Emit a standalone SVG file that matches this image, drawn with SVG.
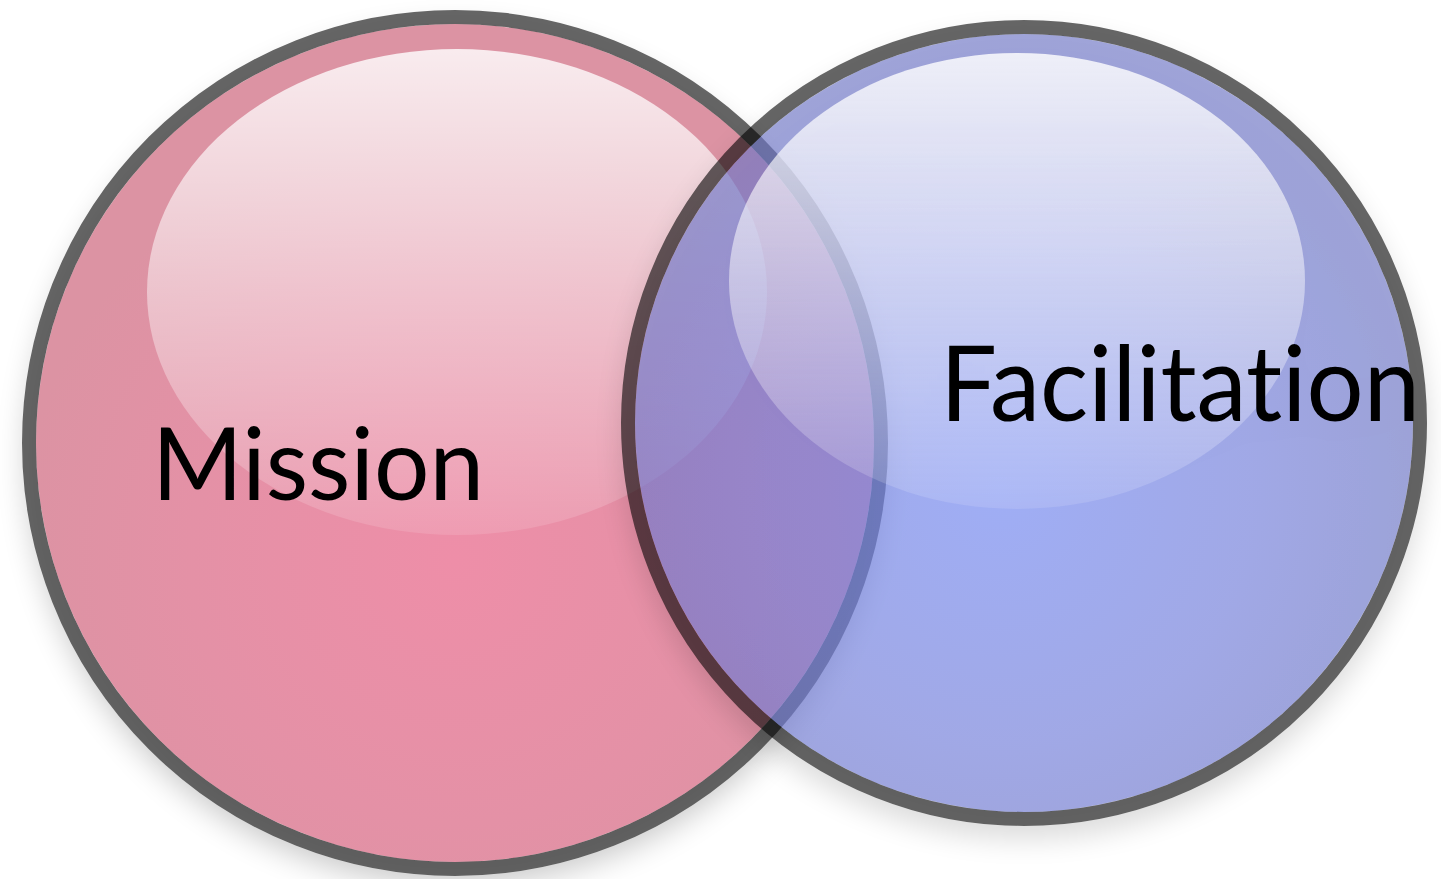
<svg xmlns="http://www.w3.org/2000/svg" width="1441" height="879" viewBox="0 0 1441 879">
<defs>
<filter id="shadow" x="-20%" y="-20%" width="140%" height="150%">
<feGaussianBlur in="SourceAlpha" stdDeviation="14"/>
<feOffset dx="0" dy="14"/>
<feComponentTransfer result="sh"><feFuncA type="linear" slope="0.22"/></feComponentTransfer>
<feComposite in="sh" in2="SourceAlpha" operator="out" result="shout"/>
<feMerge><feMergeNode in="shout"/><feMergeNode in="SourceGraphic"/></feMerge>
</filter>
<radialGradient id="pink" cx="455" cy="560" r="440" gradientUnits="userSpaceOnUse">
<stop offset="0" stop-color="#ee8ea8"/>
<stop offset="0.6" stop-color="#e491a6"/>
<stop offset="1" stop-color="#dc93a3"/>
</radialGradient>
<radialGradient id="blue" cx="1000" cy="490" r="420" gradientUnits="userSpaceOnUse">
<stop offset="0" stop-color="#7288f3"/>
<stop offset="0.6" stop-color="#7480dc"/>
<stop offset="1" stop-color="#6f76c6"/>
</radialGradient>
<linearGradient id="gloss" x1="0" y1="0" x2="0" y2="1">
<stop offset="0" stop-color="#fff" stop-opacity="0.82"/>
<stop offset="0.5" stop-color="#fff" stop-opacity="0.45"/>
<stop offset="1" stop-color="#fff" stop-opacity="0.12"/>
</linearGradient>
<style>
.ring{fill:none;stroke:#000;stroke-opacity:0.6;stroke-width:14}
.lbl{font-family:Lato,"Open Sans","Liberation Sans",sans-serif;fill:#000;font-variant-ligatures:none}
</style>
</defs>
<g id="mission" filter="url(#shadow)">
<circle cx="455" cy="443" r="419" fill="url(#pink)"/>
<circle cx="455" cy="443" r="426" class="ring"/>
<ellipse cx="457" cy="292" rx="310" ry="243" fill="url(#gloss)"/>
<text class="lbl" x="152" y="500" font-size="100" textLength="332" lengthAdjust="spacingAndGlyphs">Mission</text>
</g>
<g id="facilitation" filter="url(#shadow)">
<circle cx="1024" cy="423" r="389" fill="url(#blue)" fill-opacity="0.66"/>
<circle cx="1024" cy="423" r="396" class="ring"/>
<ellipse cx="1017" cy="281" rx="288" ry="228" fill="url(#gloss)"/>
<text class="lbl" x="940" y="421" font-size="104" textLength="480" lengthAdjust="spacingAndGlyphs">Facilitation</text>
</g>
</svg>
